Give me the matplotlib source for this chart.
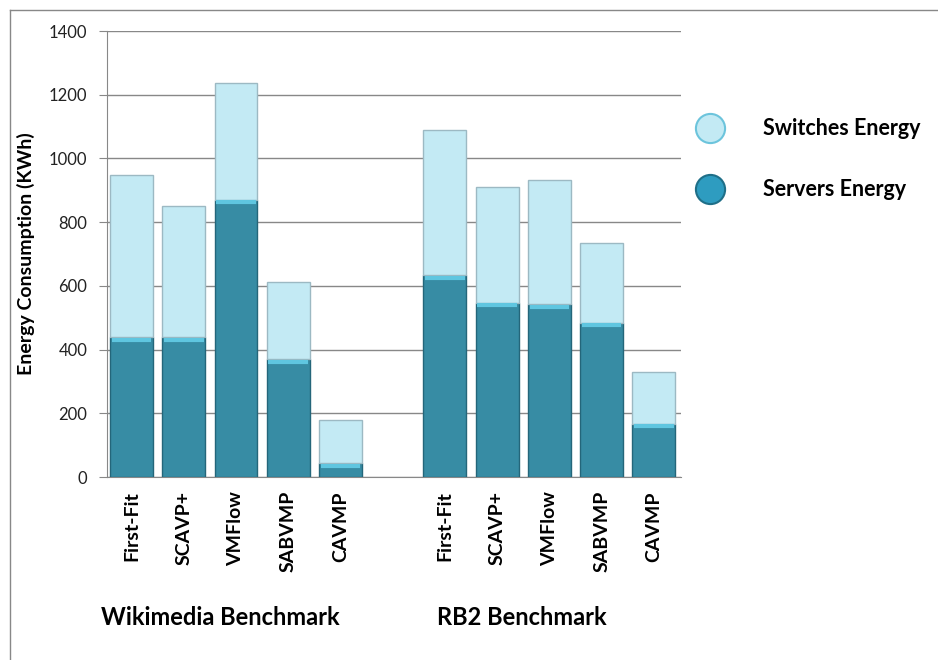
import matplotlib.pyplot as plt
from matplotlib.lines import Line2D

plt.rcParams["font.family"] = ["Lato", "DejaVu Sans"]

algorithms = ["First-Fit", "SCAVP+", "VMFlow", "SABVMP", "CAVMP"]
benchmarks = ["Wikimedia Benchmark", "RB2 Benchmark"]

# energy values (KWh)
wiki_servers = [440, 440, 870, 370, 43]
wiki_totals = [948, 852, 1238, 612, 178]
rb2_servers = [634, 548, 542, 484, 168]
rb2_totals = [1088, 910, 931, 734, 331]

y_ticks = [0, 200, 400, 600, 800, 1000, 1200, 1400]

servers_color = "#378CA4"
servers_edge = "#24667A"
switches_color = "#C3EAF4"
switches_edge = "#9CB9C3"


def main():
    fig = plt.figure(figsize=(9.38, 6.6), dpi=100)
    ax = fig.add_axes([0.114, 0.277, 0.612, 0.676])

    servers = wiki_servers + rb2_servers
    switches = [t - s for t, s in zip(wiki_totals + rb2_totals, servers)]
    positions = list(range(5)) + list(range(6, 11))
    labels = algorithms + algorithms

    ax.bar(positions, servers, width=0.82, color=servers_color,
           edgecolor=servers_edge, linewidth=1, zorder=3)
    ax.bar(positions, switches, bottom=servers, width=0.82, color=switches_color,
           edgecolor=switches_edge, linewidth=1, zorder=3)
    # light bevel line just under the top of each servers segment
    ax.hlines([s - 8 for s in servers], [p - 0.38 for p in positions],
              [p + 0.38 for p in positions], color="#5FC6E0", linewidth=3, zorder=4)

    ax.set_xlim(-0.47, 10.52)
    ax.set_ylim(0, 1400)
    ax.set_yticks(y_ticks)
    ax.tick_params(axis="y", labelsize=12, length=6, color="#888888",
                   direction="out", labelcolor="#222222", pad=8)
    ax.set_xticks(positions)
    ax.set_xticklabels(labels, rotation=90, fontsize=14, fontweight="bold")
    ax.tick_params(axis="x", length=0, pad=10)
    ax.grid(axis="y", color="#888888", linewidth=1, zorder=0)
    for side in ["top", "right"]:
        ax.spines[side].set_visible(False)
    ax.spines["left"].set_color("#888888")
    ax.spines["bottom"].set_color("#888888")
    ax.set_ylabel("Energy Consumption (KWh)", fontsize=14, fontweight="bold", labelpad=10)

    fig.text(0.235, 0.064, benchmarks[0], fontsize=17, fontweight="bold",
             ha="center", va="center")
    fig.text(0.556, 0.064, benchmarks[1], fontsize=17, fontweight="bold",
             ha="center", va="center")

    handles = [
        Line2D([], [], marker="o", linestyle="none", markersize=21,
               markerfacecolor=switches_color, markeredgecolor="#6CC4DC", markeredgewidth=1.5),
        Line2D([], [], marker="o", linestyle="none", markersize=21,
               markerfacecolor="#2E9CC0", markeredgecolor="#1F6F88", markeredgewidth=1.5),
    ]
    fig.legend(handles, ["Switches Energy", "Servers Energy"],
               loc="upper left", bbox_to_anchor=(0.723, 0.85), frameon=False,
               prop={"weight": "bold", "size": 15.5}, labelspacing=1.85,
               handletextpad=1.85, handlelength=1.2)

    # chart border: only top and left edges are inside the picture
    fig.add_artist(Line2D([10 / 938, 10 / 938], [0, 650 / 660], color="#888888",
                          linewidth=1, transform=fig.transFigure))
    fig.add_artist(Line2D([10 / 938, 1], [650 / 660, 650 / 660], color="#888888",
                          linewidth=1, transform=fig.transFigure))

    fig.savefig("out.png", dpi=100)


if __name__ == "__main__":
    main()
